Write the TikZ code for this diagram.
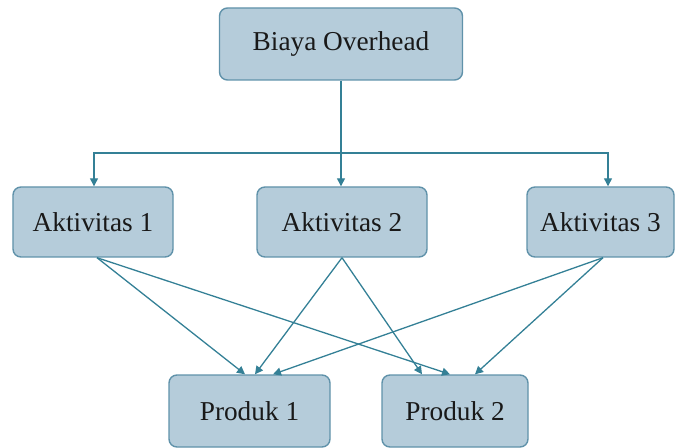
\documentclass[tikz,border=0pt]{standalone}
\usepackage{fontspec}
\setmainfont{Liberation Serif}
\usetikzlibrary{arrows.meta}
\definecolor{boxfill}{RGB}{181,204,218}
\definecolor{boxline}{RGB}{96,146,170}
\definecolor{conn}{RGB}{52,128,150}
\definecolor{txt}{RGB}{25,25,25}
\tikzset{
  box/.style={draw=boxline, fill=boxfill, line width=1.4bp, rounded corners=8bp,
    text=txt, font=\fontsize{27.4}{30}\selectfont, inner sep=0pt},
  conn/.style={draw=conn, line width=1.3bp, -{Triangle[length=8bp,width=8bp]}}
}
\begin{document}
\begin{tikzpicture}[x=1bp,y=-1bp]
\useasboundingbox (0,0) rectangle (676,448);
\node[box, minimum width=243bp, minimum height=72bp] (B) at (341,44) {Biaya Overhead};
\node[box, minimum width=160bp, minimum height=70bp] (A1) at (93,222) {Aktivitas 1};
\node[box, minimum width=170bp, minimum height=70bp] (A2) at (342,222) {Aktivitas 2};
\node[box, minimum width=147bp, minimum height=70bp] (A3) at (600.5,222) {Aktivitas 3};
\node[box, minimum width=161bp, minimum height=72bp] (P1) at (249.5,411) {Produk 1};
\node[box, minimum width=146bp, minimum height=72bp] (P2) at (455,411) {Produk 2};
\coordinate (J) at (341,153);
\draw[conn] (B.south) -- (B.south |- A2.north);
\draw[conn] (J) -| ([xshift=1bp]A1.north);
\draw[conn] (J) -| ([xshift=7.5bp]A3.north);
\draw[conn] ([xshift=4bp]A1.south) -- ([xshift=-4.5bp]P1.north);
\draw[conn] ([xshift=4bp]A1.south) -- ([xshift=-5bp]P2.north);
\draw[conn] (A2.south) -- ([xshift=5.5bp]P1.north);
\draw[conn] (A2.south) -- ([xshift=-33bp]P2.north);
\draw[conn] ([xshift=2.5bp]A3.south) -- ([xshift=23.5bp]P1.north);
\draw[conn] ([xshift=2.5bp]A3.south) -- ([xshift=20bp]P2.north);
\end{tikzpicture}
\end{document}
